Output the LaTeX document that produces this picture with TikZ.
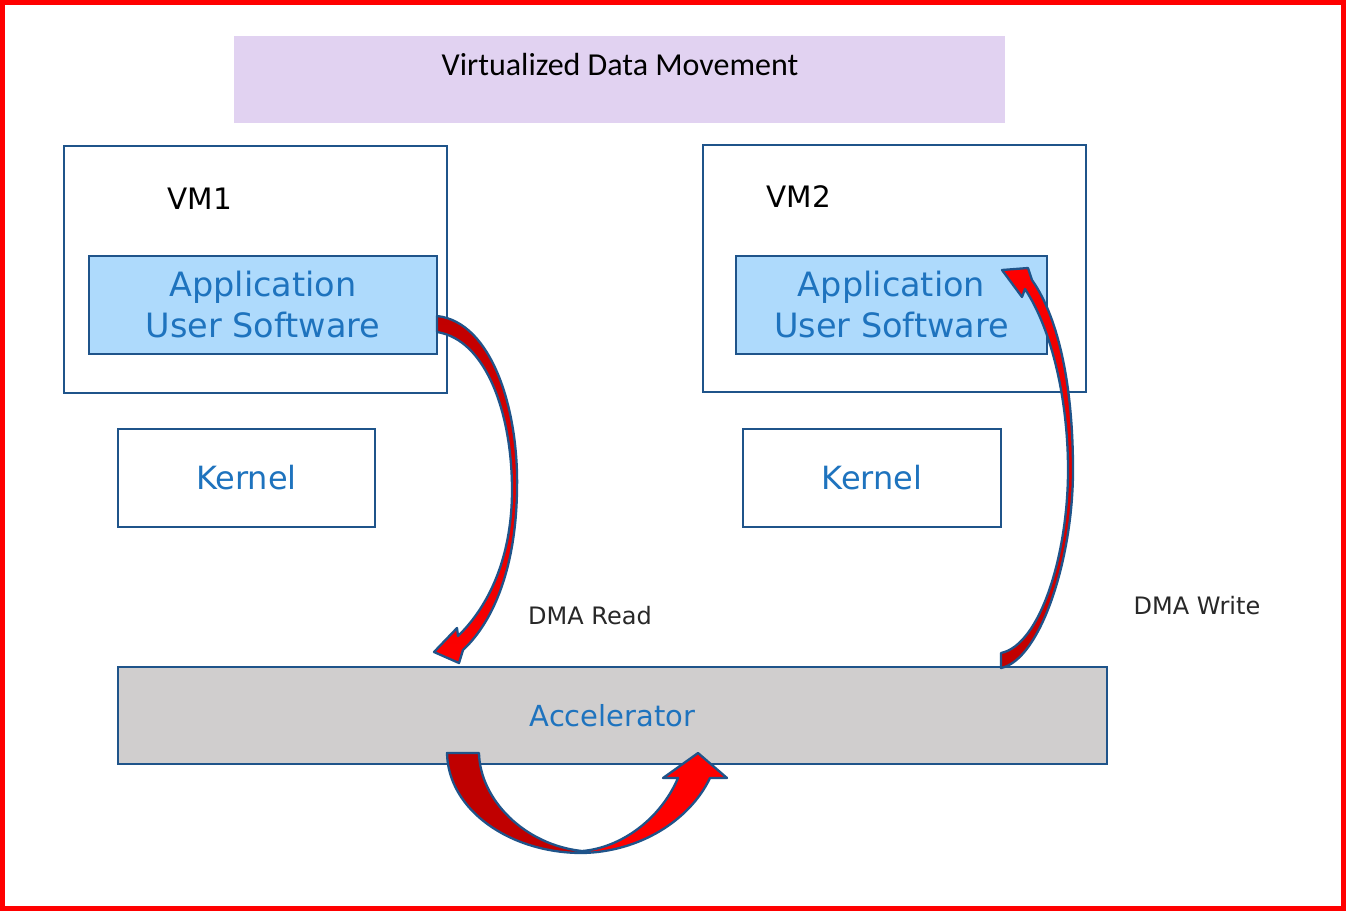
\documentclass[tikz,border=0pt]{standalone}
\usepackage{fontspec}
\setmainfont{DejaVu Sans}
\newfontfamily\titlefont{Carlito}

\definecolor{framered}{RGB}{255,0,0}
\definecolor{titlefill}{RGB}{225,210,241}
\definecolor{boxline}{RGB}{31,84,138}
\definecolor{appfill}{RGB}{174,218,252}
\definecolor{accfill}{RGB}{208,206,206}
\definecolor{txtblue}{RGB}{30,115,190}
\definecolor{arrdark}{RGB}{192,0,0}
\definecolor{arrred}{RGB}{255,0,0}
\definecolor{lblgray}{RGB}{40,40,40}

\tikzset{
  box/.style={draw=boxline, line width=2.5pt, inner sep=0pt, outer sep=0pt},
  vmbox/.style={box, fill=white, minimum width=383pt, minimum height=247pt},
  appbox/.style={box, fill=appfill, minimum height=98pt, text=txtblue,
    align=center, font=\fontsize{33.5}{41}\selectfont},
  kernbox/.style={box, fill=white, minimum height=98pt, text=txtblue,
    font=\fontsize{32}{38}\selectfont},
  vmlabel/.style={text=black, font=\fontsize{29.5}{34}\selectfont},
  dmalabel/.style={text=lblgray, font=\fontsize{24}{28}\selectfont},
  blockarrow/.style={draw=boxline, line width=2.3pt, line join=round},
}

\begin{document}
\begin{tikzpicture}[x=1pt, y=-1pt]
  \useasboundingbox (0,0) rectangle (1346,911);
  \fill[white] (0,0) rectangle (1346,911);
  \draw[framered, line width=5pt] (2.5,2.5) rectangle (1343.5,908.5);

  % title banner
  \node[fill=titlefill, minimum width=771pt, minimum height=87pt, inner sep=0pt]
    (title) at (619.5,79.5) {};
  \node[font=\titlefont\fontsize{32}{36}\selectfont, anchor=base]
    (titletext) at (620,75) {Virtualized Data Movement};

  % virtual machines
  \node[vmbox] (vm1) at (255.5,269.5) {};
  \node[vmbox] (vm2) at (894.5,268.5) {};
  \node[vmlabel, anchor=base] (vm1lbl) at (200,209) {VM1};
  \node[vmlabel, anchor=base] (vm2lbl) at (799,207) {VM2};

  \node[appbox, minimum width=348pt] (app1) at (263,305)
    {Application\\User Software};
  \node[appbox, minimum width=311pt] (app2) at (891.5,305)
    {Application\\User Software};

  % kernels
  \node[kernbox, minimum width=257pt] (kern1) at (246.5,478) {Kernel};
  \node[kernbox, minimum width=258pt] (kern2) at (872,478) {Kernel};

  % accelerator
  \node[box, fill=accfill, minimum width=989pt, minimum height=97pt,
        text=txtblue, font=\fontsize{29}{34}\selectfont]
    (acc) at (612.5,715.5) {Accelerator};

  \node[dmalabel] (dmaread) at (590,616) {DMA Read};
  \node[dmalabel] (dmawrite) at (1197,606) {DMA Write};

  % DMA read: application (VM1) down to the accelerator
  \coordinate (rdtail) at (app1.east);
  \coordinate (rdtip) at (434,652);
  \path[blockarrow, top color=arrdark, bottom color=arrred]
    (437,316) .. controls (492,322) and (519,410) .. (517,490)
              .. controls (516,565) and (495,620) .. (463,650)
    -- (459,663) -- (rdtip) -- (457,628) -- (458,636)
              .. controls (487,608) and (512,560) .. (512,490)
              .. controls (512,415) and (487,340) .. (437,332) -- cycle;

  % DMA write: accelerator up to the application (VM2)
  \coordinate (wrtip) at (1002,270);
  \path[blockarrow, top color=arrred, bottom color=arrdark]
    (1001,668) .. controls (1040,660) and (1073,560) .. (1073,470)
               .. controls (1073,390) and (1060,320) .. (1032,280)
    -- (1028,268) -- (wrtip) -- (1022,297) -- (1025,289)
               .. controls (1052,330) and (1068,400) .. (1068,470)
               .. controls (1068,555) and (1040,645) .. (1001,653) -- cycle;

  % loop-back under the accelerator
  \fill[arrdark]
    (447,753) .. controls (448,810) and (510,853) .. (583,853)
    -- (583,851) .. controls (525,845) and (480,800) .. (479,753) -- cycle;
  \fill[arrred]
    (581,853) .. controls (640,852) and (690,820) .. (710,778)
    -- (727,778) -- (698,753) -- (663,778) -- (678,778)
    .. controls (660,820) and (620,848) .. (581,851) -- cycle;
  \draw[blockarrow]
    (447,753) .. controls (448,810) and (510,853) .. (582,853)
    .. controls (640,852) and (690,820) .. (710,778)
    -- (727,778) -- (698,753) -- (663,778) -- (678,778)
    .. controls (660,820) and (620,848) .. (582,851)
    .. controls (525,845) and (480,800) .. (479,753) -- cycle;
\end{tikzpicture}
\end{document}
